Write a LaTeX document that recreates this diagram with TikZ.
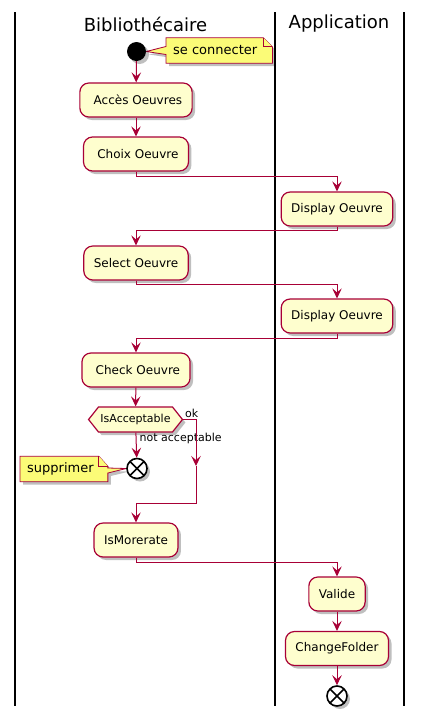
\documentclass[tikz,border=0pt]{standalone}
\usepackage{fontspec}
\setmainfont{DejaVu Sans}
\usepackage{tikz}
\usetikzlibrary{arrows.meta,shapes.symbols,shadows,backgrounds}
\definecolor{umlred}{HTML}{A80036}
\definecolor{actfill}{HTML}{FEFECE}
\definecolor{notefill}{HTML}{FBFB77}

\begin{document}
\begin{tikzpicture}[x=1pt,y=-1pt,
  shade/.style={drop shadow={shadow xshift=3pt,shadow yshift=-3pt,fill=black,opacity=0.25}},
  action/.style={rectangle,rounded corners=9pt,draw=umlred,fill=actfill,line width=1.2pt,
    minimum height=34pt,inner xsep=10pt,inner ysep=0pt,font=\fontsize{12}{14}\selectfont,shade},
  choice/.style={signal,signal to=west and east,signal pointer angle=103,draw=umlred,fill=actfill,
    line width=1.2pt,minimum height=25pt,inner xsep=2pt,inner ysep=0pt,font=\fontsize{11}{13}\selectfont,shade},
  stopnode/.style={circle,draw=black,fill=white,line width=1.6pt,minimum size=20pt,inner sep=0pt,shade,
    path picture={\draw[line width=1.6pt] (path picture bounding box.north west) -- (path picture bounding box.south east)
      (path picture bounding box.north east) -- (path picture bounding box.south west);}},
  notetext/.style={inner sep=0pt,minimum height=25pt,font=\fontsize{13}{15}\selectfont},
  notebox/.style={draw=umlred,fill=notefill,line width=0.8pt,line join=miter},
  flow/.style={draw=umlred,line width=1pt,-{Stealth[length=10pt,width=9.5pt,inset=4pt]}},
  guard/.style={inner sep=0pt,font=\fontsize{11}{13}\selectfont},
  lane/.style={draw=black,line width=1.6pt}]
\useasboundingbox (0,0) rectangle (423,721);

% swimlanes
\draw[lane] (15,12) -- (15,706);
\draw[lane] (275,12) -- (275,706);
\draw[lane] (404,12) -- (404,706);
\node (lib) at (145.5,24) [font=\fontsize{18}{21}\selectfont] {Bibliothécaire};
\node (app) at (339,24) [font=\fontsize{18}{21}\selectfont] {Application};

% activities
\node (start) at (136.5,51.5) [circle,fill=black,minimum size=19pt,inner sep=0pt,shade] {};
\node (acces) at (136,100) [action] {\ Accès Oeuvres};
\node (choix) at (136,154) [action] {\ Choix Oeuvre};
\node (disp1) at (337,209) [action] {Display Oeuvre};
\node (select) at (136,263) [action] {Select Oeuvre};
\node (disp2) at (337,316) [action] {Display Oeuvre};
\node (check) at (136,370) [action] {\ Check Oeuvre};
\node (accept) at (135.5,419.5) [choice] {IsAcceptable};
\node (stopA) at (137,468.5) [stopnode] {};
\node (ismore) at (136,540) [action] {IsMorerate};
\node (valide) at (337,594) [action] {Valide};
\node (change) at (337,648.5) [action] {ChangeFolder};
\node (stopB) at (337,696) [stopnode] {};

% notes
\node (noteA) at (173,50.5) [notetext,anchor=west] {se connecter};
\node (noteB) at (27,469) [notetext,anchor=west] {supprimer};
\begin{pgfonlayer}{background}
\filldraw[notebox,shade] ([xshift=-7pt]noteA.south west) -- ([xshift=-7pt,yshift=-4pt]noteA.west)
  -- (start.east) -- ([xshift=-7pt,yshift=4pt]noteA.west) -- ([xshift=-7pt]noteA.north west)
  -- ([xshift=6pt]noteA.north east) -- ([xshift=15pt,yshift=-9pt]noteA.north east)
  -- ([xshift=15pt]noteA.south east) -- cycle;
\draw[notebox] ([xshift=6pt]noteA.north east) |- ([xshift=15pt,yshift=-9pt]noteA.north east);
\filldraw[notebox,shade] ([xshift=-7pt]noteB.south west) -- ([xshift=-7pt]noteB.north west)
  -- ([xshift=5pt]noteB.north east) -- ([xshift=14pt,yshift=-10pt]noteB.north east)
  -- ([xshift=14pt,yshift=1pt]noteB.east) -- (stopA.west) -- ([xshift=14pt,yshift=-4pt]noteB.east)
  -- ([xshift=14pt]noteB.south east) -- cycle;
\draw[notebox] ([xshift=5pt]noteB.north east) |- ([xshift=14pt,yshift=-10pt]noteB.north east);
\end{pgfonlayer}

% guards
\node (okl) at (185,413) [guard,anchor=west] {ok};
\node (notl) at (139.5,438) [guard,anchor=west] {not acceptable};

% flow
\coordinate (okarrow) at (196,466);
\coordinate (merge) at (196,503);
\draw[flow] (start) -- (acces);
\draw[flow] (acces) -- (choix);
\draw[flow] (choix.south) -- ++(0,5) -| (disp1.north);
\draw[flow] (disp1.south) -- ++(0,4) -| (select.north);
\draw[flow] (select.south) -- ++(0,4) -| (disp2.north);
\draw[flow] (disp2.south) -- ++(0,5) -| (check.north);
\draw[flow] (check) -- (accept);
\draw[flow] (accept) -- (stopA);
\draw[flow] (accept.east) -| (okarrow);
\draw[flow] (okarrow) -- (merge) -| (ismore.north);
\draw[flow] (ismore.south) -- ++(0,5) -| (valide.north);
\draw[flow] (valide) -- (change);
\draw[flow] (change) -- (stopB);
\end{tikzpicture}
\end{document}
